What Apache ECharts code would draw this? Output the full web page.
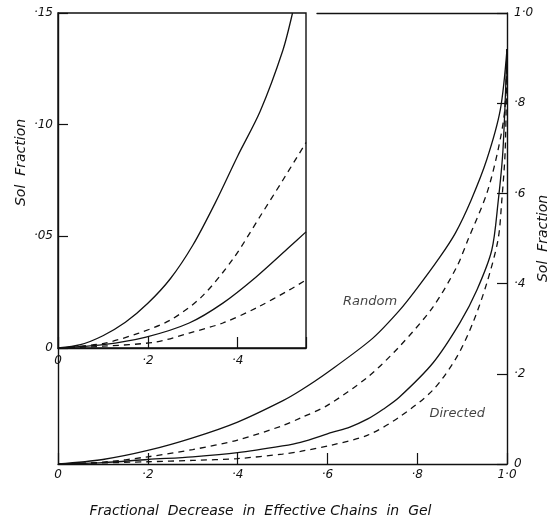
<!DOCTYPE html>
<html><head><meta charset="utf-8">
<script src="https://cdn.jsdelivr.net/npm/echarts@6/dist/echarts.min.js"></script>
<style>html,body{margin:0;padding:0;background:#fff}#c{width:558px;height:524px}</style>
</head><body><div id="c"></div>
<script>
// ---- main panel data (x = fractional decrease, y = sol fraction) ----
const mainRandomSolid = [[0,0],[0.1,0.01],[0.2,0.03],[0.3,0.058],[0.4,0.093],[0.5,0.14],[0.54,0.163],[0.6,0.203],[0.7,0.278],[0.76,0.34],[0.8,0.39],[0.85,0.458],[0.885,0.512],[0.92,0.585],[0.955,0.675],[0.985,0.785],[1.0,0.92]];
const mainRandomDashed = [[0,0],[0.1,0.004],[0.2,0.016],[0.3,0.032],[0.4,0.053],[0.5,0.085],[0.54,0.102],[0.6,0.13],[0.69,0.193],[0.76,0.26],[0.835,0.348],[0.888,0.437],[0.913,0.497],[0.955,0.6],[0.98,0.696],[0.995,0.785],[1.0,0.92]];
const mainDirectedSolid = [[0,0],[0.1,0.003],[0.2,0.01],[0.3,0.016],[0.4,0.025],[0.5,0.04],[0.54,0.048],[0.61,0.07],[0.65,0.082],[0.69,0.1],[0.725,0.122],[0.76,0.148],[0.835,0.224],[0.895,0.313],[0.933,0.386],[0.966,0.474],[0.98,0.579],[0.991,0.696],[1.0,0.92]];
const mainDirectedDashed = [[0,0],[0.2,0.005],[0.3,0.008],[0.4,0.012],[0.5,0.022],[0.54,0.028],[0.61,0.042],[0.69,0.064],[0.76,0.104],[0.835,0.164],[0.888,0.237],[0.924,0.313],[0.955,0.401],[0.98,0.497],[0.988,0.579],[0.996,0.696],[1.0,0.92]];
// ---- inset panel data ----
const insetRandomSolid = [[0,0],[0.05,0.0015],[0.1,0.0055],[0.15,0.0115],[0.2,0.02],[0.25,0.031],[0.3,0.046],[0.35,0.065],[0.4,0.086],[0.45,0.106],[0.5,0.133],[0.522,0.15]];
const insetRandomDashed = [[0,0],[0.1,0.002],[0.18,0.0067],[0.25,0.0125],[0.32,0.023],[0.39,0.04],[0.45,0.059],[0.5,0.075],[0.552,0.092]];
const insetDirectedSolid = [[0,0],[0.1,0.0015],[0.196,0.0049],[0.292,0.0112],[0.367,0.0201],[0.441,0.0318],[0.515,0.0452],[0.552,0.052]];
const insetDirectedDashed = [[0,0],[0.1,0.0008],[0.218,0.0027],[0.292,0.0067],[0.367,0.0112],[0.441,0.0179],[0.515,0.026],[0.552,0.0305]];
// ---- tick labels ----
const mainXTickLabels = ['0','·2','·4','·6','·8','1·0'];
const mainYTickLabels = ['0','·2','·4','·6','·8','1·0'];
const insetXTickLabels = ['0','·2','·4'];
const insetYTickLabels = ['0','·05','·10','·15'];
const annotations = [[0.695,0.361,'Random'],[0.889,0.111,'Directed']];
const xAxisTitle = 'Fractional  Decrease  in  Effective Chains  in  Gel';
const yAxisTitle = 'Sol  Fraction';

const FONT = 'DejaVu Sans';
const ink = '#111';
function lbl(arr, step){
  return function(v){
    const i = Math.round(v/step);
    if (Math.abs(i*step - v) > 1e-6) return '';
    return arr[i] !== undefined ? arr[i] : '';
  };
}
const lineW = 1.3;
function mk(data, dashed, xi, yi){
  return {type:'line', data:data, xAxisIndex:xi, yAxisIndex:yi, symbol:'none',
    smooth:0.3, silent:true,
    lineStyle:{color:ink, width:lineW, type: dashed ? [6,5] : 'solid'}};
}
function axLine(){ return {show:true, onZero:false, lineStyle:{color:ink, width:1.4}}; }
function tickLbl(extra){ return Object.assign({color:ink, fontFamily:FONT, fontStyle:'italic', fontSize:12}, extra); }
function inTick(len){ return {show:true, inside:true, length:len, lineStyle:{color:ink,width:1.2}}; }
function lineOnlyAxis(grid, pos){
  return {gridIndex:grid, type:'value', min:0, max:1, position:pos,
    axisLine:axLine(), axisTick:{show:false}, minorTick:{show:false},
    axisLabel:{show:false}, splitLine:{show:false}, minorSplitLine:{show:false}};
}
function hiddenAxis(grid){ return {gridIndex:grid, type:'value', min:0, max:1, show:false}; }

const chart = echarts.init(document.getElementById('c'), null, {renderer:'canvas'});
chart.setOption({
  animation:false,
  backgroundColor:'#fff',
  grid:[
    {left:58, right:51, top:13, bottom:60, outerBoundsMode:'none', containLabel:false},
    {left:58, top:13, width:248, height:335, show:true, borderColor:ink, borderWidth:1.4, backgroundColor:'transparent', outerBoundsMode:'none', containLabel:false},
    {left:317, right:51, top:13, height:1, outerBoundsMode:'none', containLabel:false},
    {left:58, width:4, top:348, bottom:60, outerBoundsMode:'none', containLabel:false}
  ],
  xAxis:[
    {gridIndex:0, type:'value', min:0, max:1, interval:0.2, position:'bottom',
     axisLine:axLine(), axisTick:inTick(11),
     axisLabel:tickLbl({margin:5, formatter:lbl(mainXTickLabels,0.2)}),
     splitLine:{show:false},
     name:xAxisTitle, nameLocation:'middle', nameGap:40,
     nameTextStyle:{color:ink, fontFamily:FONT, fontStyle:'italic', fontSize:14, padding:[0,44,0,0]}},
    {gridIndex:1, type:'value', min:0, max:0.552, interval:0.2, position:'bottom',
     axisLine:axLine(), axisTick:inTick(11),
     axisLabel:tickLbl({margin:7, formatter:lbl(insetXTickLabels,0.2)}),
     splitLine:{show:false}},
    lineOnlyAxis(2,'top'),
    hiddenAxis(3)
  ],
  yAxis:[
    {gridIndex:0, type:'value', min:0, max:1, interval:0.2, position:'right',
     axisLine:axLine(), axisTick:inTick(10),
     axisLabel:tickLbl({margin:7, formatter:lbl(mainYTickLabels,0.2)}),
     splitLine:{show:false},
     name:yAxisTitle, nameLocation:'middle', nameGap:29, nameRotate:90, nameMoveOverlap:false,
     nameTextStyle:{color:ink, fontFamily:FONT, fontStyle:'italic', fontSize:14}},
    {gridIndex:1, type:'value', min:0, max:0.15, interval:0.05, position:'left',
     axisLine:axLine(), axisTick:inTick(10),
     axisLabel:tickLbl({margin:5, formatter:lbl(insetYTickLabels,0.05)}),
     splitLine:{show:false},
     name:yAxisTitle, nameLocation:'middle', nameGap:30, nameRotate:90,
     nameTextStyle:{color:ink, fontFamily:FONT, fontStyle:'italic', fontSize:14, padding:[0,0,0,36]}},
    hiddenAxis(2),
    lineOnlyAxis(3,'left')
  ],
  series:[
    mk(mainRandomSolid,false,0,0),
    mk(mainRandomDashed,true,0,0),
    mk(mainDirectedSolid,false,0,0),
    mk(mainDirectedDashed,true,0,0),
    mk(insetRandomSolid,false,1,1),
    mk(insetRandomDashed,true,1,1),
    mk(insetDirectedSolid,false,1,1),
    mk(insetDirectedDashed,true,1,1),
    {type:'scatter', xAxisIndex:0, yAxisIndex:0, data:annotations, symbolSize:1, silent:true,
     itemStyle:{color:'transparent'},
     label:{show:true, position:'inside', formatter:p=>p.value[2], color:ink,
            fontFamily:FONT, fontStyle:'italic', fontSize:13}}
  ]
});
</script></body></html>
